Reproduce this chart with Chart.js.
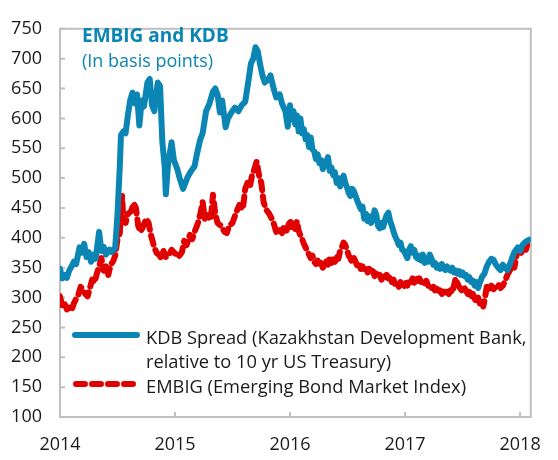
<!DOCTYPE html>
<html>
<head>
<meta charset="utf-8">
<script src="https://cdn.jsdelivr.net/npm/chart.js@4"></script>
<style>
  body { margin: 0; background: #fff; }
  #wrap { width: 558px; height: 460px; }
</style>
</head>
<body>
<div id="wrap"><canvas id="spreadChart" width="558" height="460"></canvas></div>
<script>
// --- data (x in decimal years, y in basis points) ---
const yearTicks = [2014, 2015, 2016, 2017, 2018];
const yTicks = [100, 150, 200, 250, 300, 350, 400, 450, 500, 550, 600, 650, 700, 750];

const kdbDates = [
  2014.00, 2014.02, 2014.04, 2014.06, 2014.08, 2014.10, 2014.12, 2014.14, 2014.17, 2014.19,
  2014.21, 2014.23, 2014.25, 2014.27, 2014.29, 2014.31, 2014.34, 2014.36, 2014.38, 2014.40,
  2014.43, 2014.45, 2014.48, 2014.50, 2014.52, 2014.53, 2014.55, 2014.57, 2014.59, 2014.61,
  2014.63, 2014.65, 2014.67, 2014.69, 2014.71, 2014.73, 2014.76, 2014.78, 2014.80, 2014.82,
  2014.85, 2014.87, 2014.89, 2014.91, 2014.92, 2014.94, 2014.96, 2014.97, 2014.99, 2015.02,
  2015.04, 2015.07, 2015.09, 2015.11, 2015.14, 2015.17, 2015.19, 2015.22, 2015.24, 2015.27,
  2015.30, 2015.33, 2015.35, 2015.37, 2015.39, 2015.41, 2015.44, 2015.46, 2015.49, 2015.52,
  2015.55, 2015.58, 2015.61, 2015.64, 2015.66, 2015.68, 2015.70, 2015.72, 2015.74, 2015.76,
  2015.78, 2015.81, 2015.83, 2015.86, 2015.88, 2015.91, 2015.93, 2015.96, 2015.98,
  2016.000, 2016.015, 2016.030, 2016.045, 2016.060, 2016.075, 2016.090, 2016.105, 2016.120, 2016.135,
  2016.150, 2016.165, 2016.180, 2016.195, 2016.210, 2016.225, 2016.240, 2016.255, 2016.270, 2016.285,
  2016.300, 2016.315, 2016.330, 2016.345, 2016.360, 2016.375, 2016.390, 2016.405, 2016.420, 2016.435,
  2016.450, 2016.465, 2016.480, 2016.495, 2016.510, 2016.525, 2016.540, 2016.555, 2016.570, 2016.585,
  2016.600, 2016.615, 2016.630, 2016.645, 2016.660, 2016.675, 2016.690, 2016.705, 2016.720, 2016.735,
  2016.750, 2016.765, 2016.780, 2016.795, 2016.810, 2016.825, 2016.840, 2016.855, 2016.870, 2016.885,
  2016.900, 2016.915, 2016.930, 2016.945, 2016.960, 2016.975, 2016.990, 2017.005, 2017.020, 2017.035,
  2017.050, 2017.065, 2017.080, 2017.095, 2017.110, 2017.125, 2017.140, 2017.155, 2017.170, 2017.185,
  2017.200, 2017.215, 2017.230, 2017.245, 2017.260, 2017.275, 2017.290, 2017.305, 2017.320, 2017.335,
  2017.350, 2017.365, 2017.380, 2017.395, 2017.410, 2017.425, 2017.440, 2017.455, 2017.470, 2017.485,
  2017.500, 2017.515, 2017.530, 2017.545, 2017.560, 2017.575, 2017.590, 2017.605, 2017.620, 2017.635,
  2017.650, 2017.670, 2017.690, 2017.710, 2017.730, 2017.750, 2017.770, 2017.790, 2017.810, 2017.830,
  2017.850, 2017.870, 2017.890, 2017.910, 2017.930, 2017.950, 2017.965, 2017.980, 2018.000, 2018.020,
  2018.040, 2018.060, 2018.080
];
const kdbSpread = [
  348, 332, 338, 333, 345, 352, 360, 356, 384, 375,
  390, 368, 376, 360, 372, 365, 410, 378, 385, 372,
  380, 376, 384, 440, 520, 572, 578, 575, 605, 630,
  643, 625, 640, 588, 630, 620, 660, 666, 622, 612,
  660, 654, 560, 520, 473, 525, 548, 560, 530, 515,
  500, 482, 492, 502, 512, 520, 540, 565, 575, 612,
  625, 645, 650, 640, 610, 630, 585, 600, 610, 618,
  612, 622, 628, 665, 692, 700, 719, 712, 690, 672,
  660, 665, 672, 648, 635, 640, 625, 612, 586,
  622, 598, 612, 590, 605, 578, 600, 575, 582, 565,
  572, 552, 568, 548, 545, 532, 540, 525, 530, 515,
  522, 528, 535, 512, 518, 505, 510, 492, 500, 486,
  498, 504, 492, 485, 475, 470, 482, 478, 470, 462,
  455, 448, 452, 432, 440, 428, 436, 425, 432, 446,
  438, 420, 416, 425, 418, 430, 438, 442, 428, 420,
  410, 402, 396, 388, 392, 380, 378, 372, 366, 380,
  386, 375, 380, 368, 365, 370, 362, 372, 358, 366,
  360, 372, 365, 355, 358, 350, 354, 348, 356, 350,
  346, 352, 348, 345, 350, 342, 345, 340, 344, 338,
  342, 336, 338, 330, 334, 326, 328, 320, 326, 316,
  325, 335, 340, 352, 360, 365, 363, 355, 350, 346,
  355, 350, 346, 355, 366, 376, 380, 384, 378, 388,
  392, 395, 397
];

const embigDates = [
  2014.00, 2014.02, 2014.04, 2014.06, 2014.08, 2014.10, 2014.12, 2014.14, 2014.16, 2014.18,
  2014.20, 2014.22, 2014.24, 2014.26, 2014.28, 2014.30, 2014.32, 2014.34, 2014.36, 2014.38,
  2014.40, 2014.42, 2014.44, 2014.46, 2014.48, 2014.50, 2014.52, 2014.54, 2014.55, 2014.57,
  2014.59, 2014.62, 2014.64, 2014.66, 2014.68, 2014.70, 2014.72, 2014.75, 2014.77, 2014.79,
  2014.82, 2014.84, 2014.86, 2014.88, 2014.90, 2014.92, 2014.95, 2014.97, 2015.00, 2015.03,
  2015.06, 2015.08, 2015.10, 2015.13, 2015.15, 2015.17, 2015.20, 2015.22, 2015.24, 2015.26,
  2015.28, 2015.31, 2015.33, 2015.35, 2015.37, 2015.40, 2015.43, 2015.45, 2015.47, 2015.50,
  2015.53, 2015.56, 2015.59, 2015.61, 2015.63, 2015.65, 2015.67, 2015.69, 2015.71, 2015.73,
  2015.75, 2015.77, 2015.79, 2015.82, 2015.84, 2015.86, 2015.88, 2015.90, 2015.93, 2015.95,
  2015.97,
  2016.000, 2016.015, 2016.030, 2016.045, 2016.060, 2016.075, 2016.090, 2016.105, 2016.120, 2016.135,
  2016.150, 2016.165, 2016.180, 2016.195, 2016.210, 2016.225, 2016.240, 2016.255, 2016.270, 2016.285,
  2016.300, 2016.315, 2016.330, 2016.345, 2016.360, 2016.375, 2016.390, 2016.405, 2016.420, 2016.435,
  2016.450, 2016.465, 2016.480, 2016.495, 2016.510, 2016.525, 2016.540, 2016.555, 2016.570, 2016.585,
  2016.600, 2016.615, 2016.630, 2016.645, 2016.660, 2016.675, 2016.690, 2016.705, 2016.720, 2016.735,
  2016.750, 2016.765, 2016.780, 2016.795, 2016.810, 2016.825, 2016.840, 2016.855, 2016.870, 2016.885,
  2016.900, 2016.915, 2016.930, 2016.945, 2016.960, 2016.975, 2016.990, 2017.005, 2017.020, 2017.035,
  2017.050, 2017.065, 2017.080, 2017.095, 2017.110, 2017.125, 2017.140, 2017.155, 2017.170, 2017.185,
  2017.200, 2017.215, 2017.230, 2017.245, 2017.260, 2017.275, 2017.290, 2017.305, 2017.320, 2017.335,
  2017.350, 2017.365, 2017.380, 2017.395, 2017.410, 2017.425, 2017.440, 2017.455, 2017.470, 2017.485,
  2017.500, 2017.515, 2017.530, 2017.545, 2017.560, 2017.575, 2017.590, 2017.605, 2017.620, 2017.635,
  2017.650, 2017.665, 2017.680, 2017.695, 2017.710, 2017.730, 2017.750, 2017.770, 2017.790, 2017.810,
  2017.830, 2017.850, 2017.870, 2017.890, 2017.910, 2017.930, 2017.950, 2017.970, 2017.990, 2018.010,
  2018.030, 2018.050, 2018.070, 2018.085
];
const embigSpread = [
  302, 285, 290, 280, 283, 278, 290, 298, 305, 318,
  312, 306, 302, 316, 330, 325, 340, 352, 366, 345,
  352, 338, 355, 360, 370, 398, 408, 470, 430, 425,
  440, 445, 458, 450, 420, 410, 418, 432, 425, 405,
  384, 375, 372, 366, 378, 368, 372, 380, 374, 368,
  376, 395, 388, 405, 398, 410, 425, 440, 460, 432,
  438, 430, 472, 440, 425, 420, 410, 408, 420, 425,
  442, 455, 448, 482, 492, 485, 505, 515, 528, 505,
  492, 460, 448, 440, 432, 423, 410, 416, 408, 420,
  412,
  430, 418, 426, 415, 428, 412, 404, 398, 390, 384,
  378, 372, 366, 370, 360, 356, 362, 352, 358, 350,
  356, 362, 355, 366, 358, 364, 360, 370, 365, 378,
  384, 392, 388, 380, 370, 366, 358, 366, 360, 352,
  356, 348, 352, 346, 350, 342, 348, 340, 344, 336,
  340, 334, 338, 330, 340, 334, 338, 332, 336, 326,
  330, 320, 324, 318, 326, 320, 318, 324, 320, 330,
  326, 332, 325, 333, 328, 332, 326, 330, 324, 328,
  320, 322, 316, 318, 312, 315, 308, 312, 306, 310,
  304, 310, 306, 312, 308, 320, 332, 324, 318, 314,
  310, 316, 312, 306, 310, 302, 306, 298, 292, 300,
  290, 296, 285, 300, 318, 312, 320, 314, 318, 322,
  316, 320, 328, 338, 345, 355, 350, 372, 378, 375,
  385, 380, 393, 390
];

const BLUE = '#0b85b3';
const RED = '#e00000';
const FONT = '"Open Sans", "Noto Sans", sans-serif';

function toPoints(xs, ys) {
  return xs.map((x, i) => ({ x: x, y: ys[i] }));
}

// frame, inward tick marks, title and legend drawn on the canvas
const decorPlugin = {
  id: 'decor',
  beforeDatasetsDraw(chart) {
    const ctx = chart.ctx;
    const a = chart.chartArea;
    const xs = chart.scales.x;
    const ys = chart.scales.y;
    ctx.save();
    ctx.strokeStyle = '#c0c0c0';
    ctx.lineWidth = 2;
    ctx.strokeRect(a.left, a.top, a.right - a.left, a.bottom - a.top);
    ctx.beginPath();
    yearTicks.forEach(v => {
      const px = xs.getPixelForValue(v);
      ctx.moveTo(px, a.bottom);
      ctx.lineTo(px, a.bottom - 5);
    });
    yTicks.forEach(v => {
      const py = ys.getPixelForValue(v);
      ctx.moveTo(a.left, py);
      ctx.lineTo(a.left + 5, py);
    });
    ctx.stroke();
    ctx.restore();
  },
  afterDraw(chart) {
    const ctx = chart.ctx;
    ctx.save();
    // title
    ctx.fillStyle = BLUE;
    ctx.textBaseline = 'alphabetic';
    ctx.font = 'bold 19px ' + FONT;
    ctx.fillText('EMBIG and KDB', 82, 42);
    ctx.font = '18px ' + FONT;
    ctx.fillText('(In basis points)', 82, 67);

    // legend
    ctx.lineCap = 'round';
    ctx.lineWidth = 6;
    ctx.strokeStyle = BLUE;
    ctx.beginPath();
    ctx.moveTo(75, 335);
    ctx.lineTo(137, 335);
    ctx.stroke();
    ctx.strokeStyle = RED;
    ctx.setLineDash([9, 7]);
    ctx.beginPath();
    ctx.moveTo(76, 384);
    ctx.lineTo(134, 384);
    ctx.stroke();
    ctx.setLineDash([]);

    ctx.fillStyle = '#1a1a1a';
    ctx.font = '18.3px ' + FONT;
    ctx.fillText('KDB Spread (Kazakhstan Development Bank,', 146, 344);
    ctx.fillText('relative to 10 yr US Treasury)', 146, 368);
    ctx.fillText('EMBIG (Emerging Bond Market Index)', 146, 393);
    ctx.restore();
  }
};

const ctx = document.getElementById('spreadChart');
new Chart(ctx, {
  type: 'line',
  data: {
    datasets: [
      {
        label: 'KDB Spread (Kazakhstan Development Bank, relative to 10 yr US Treasury)',
        data: toPoints(kdbDates, kdbSpread),
        borderColor: BLUE,
        borderWidth: 6,
        pointRadius: 0,
        tension: 0,
        borderJoinStyle: 'round',
        borderCapStyle: 'round'
      },
      {
        label: 'EMBIG (Emerging Bond Market Index)',
        data: toPoints(embigDates, embigSpread),
        borderColor: RED,
        borderWidth: 6,
        borderDash: [9, 6],
        pointRadius: 0,
        tension: 0,
        borderJoinStyle: 'round',
        borderCapStyle: 'round'
      }
    ]
  },
  options: {
    responsive: false,
    animation: false,
    layout: { padding: { top: 16, right: 14, left: 0, bottom: 0 } },
    plugins: {
      legend: { display: false },
      tooltip: { enabled: false }
    },
    scales: {
      x: {
        type: 'linear',
        min: 2014,
        max: 2018.093,
        afterBuildTicks: scale => { scale.ticks = yearTicks.map(v => ({ value: v })); },
        afterFit: scale => { scale.height = 43; },
        grid: { display: false, drawTicks: false },
        border: { display: false },
        ticks: {
          padding: 17,
          color: '#1a1a1a',
          font: { family: FONT, size: 18 },
          callback: v => String(v)
        }
      },
      y: {
        min: 100,
        max: 750,
        afterBuildTicks: scale => { scale.ticks = yTicks.map(v => ({ value: v })); },
        afterFit: scale => { scale.width = 60; },
        grid: { display: false, drawTicks: false },
        border: { display: false },
        ticks: {
          padding: 18,
          color: '#1a1a1a',
          font: { family: FONT, size: 18 }
        }
      }
    }
  },
  plugins: [decorPlugin]
});
</script>
</body>
</html>
